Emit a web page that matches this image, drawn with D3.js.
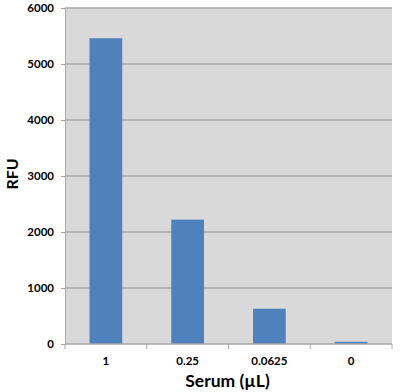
<!DOCTYPE html>
<html>
<head>
<meta charset="utf-8">
<script src="https://cdn.jsdelivr.net/npm/d3@7"></script>
<style>
  body { margin: 0; background: #fff; }
  text { font-family: Lato, "Open Sans", sans-serif; fill: #000; }
</style>
</head>
<body>
<div class="root"></div>
<script>
var categories = ["1", "0.25", "0.0625", "0"],
    values = [5460, 2220, 630, 40],
    yTicks = [0, 1000, 2000, 3000, 4000, 5000, 6000];

var width = 400,
    height = 392,
    plot = { left: 65, top: 8, right: 392, bottom: 344 };

var svg = d3.select(".root")
          .append("svg")
          .attr("width", width)
          .attr("height", height);

var x = d3.scaleBand()
        .domain(categories)
        .range([plot.left, plot.right])
        .paddingInner(0.6)
        .paddingOuter(0.3);

var y = d3.scaleLinear()
        .domain([0, 6000])
        .range([plot.bottom, plot.top]);

// plot background
svg.append("rect")
  .attr("x", plot.left)
  .attr("y", plot.top)
  .attr("width", plot.right - plot.left)
  .attr("height", plot.bottom - plot.top)
  .attr("fill", "#d9d9d9");

// gridlines
svg.append("g")
  .selectAll("line")
  .data(yTicks.filter(d => d > 0))
  .enter().append("line")
    .attr("x1", plot.left)
    .attr("x2", plot.right)
    .attr("y1", d => y(d))
    .attr("y2", d => y(d))
    .attr("stroke", "#a6a6a6")
    .attr("stroke-width", 1.5);

// bars
svg.append("g")
  .selectAll("rect")
  .data(values)
  .enter().append("rect")
    .attr("x", (d, i) => x(categories[i]))
    .attr("y", d => y(d))
    .attr("width", x.bandwidth())
    .attr("height", d => y(0) - y(d))
    .attr("fill", "#4f81bd");

// y axis
var yAxis = svg.append("g")
  .attr("transform", "translate(" + plot.left + ",0)")
  .call(d3.axisLeft(y).tickValues(yTicks).tickSize(4).tickPadding(7).tickFormat(d3.format("d")));
yAxis.select(".domain").attr("stroke", "#a6a6a6");
yAxis.selectAll(".tick line").attr("stroke", "#a6a6a6");
yAxis.selectAll("text")
  .style("font-family", "Lato, sans-serif")
  .style("font-size", "11.5px")
  .style("font-weight", "bold")
  .attr("fill", "#000");

// x axis
var xAxis = svg.append("g")
  .attr("transform", "translate(0," + plot.bottom + ")");
xAxis.append("line")
  .attr("x1", plot.left)
  .attr("x2", plot.right)
  .attr("stroke", "#a6a6a6")
  .attr("stroke-width", 1.5);
xAxis.selectAll(".tk")
  .data(d3.range(categories.length + 1))
  .enter().append("line")
    .attr("class", "tk")
    .attr("x1", i => plot.left + i * (plot.right - plot.left) / categories.length)
    .attr("x2", i => plot.left + i * (plot.right - plot.left) / categories.length)
    .attr("y1", 0)
    .attr("y2", 5)
    .attr("stroke", "#a6a6a6");
xAxis.selectAll(".lbl")
  .data(categories)
  .enter().append("text")
    .attr("class", "lbl")
    .attr("x", d => x(d) + x.bandwidth() / 2)
    .attr("y", 21)
    .attr("text-anchor", "middle")
    .style("font-size", "11.5px")
    .style("font-weight", "bold")
    .text(d => d);

// axis titles
svg.append("text")
  .attr("x", 227.5)
  .attr("y", 387)
  .attr("text-anchor", "middle")
  .style("font-size", "17.5px")
  .style("font-weight", "bold")
  .text("Serum (µL)");

svg.append("text")
  .attr("transform", "translate(18,174) rotate(-90)")
  .attr("text-anchor", "middle")
  .style("font-size", "16px")
  .style("font-weight", "bold")
  .text("RFU");
</script>
</body>
</html>
